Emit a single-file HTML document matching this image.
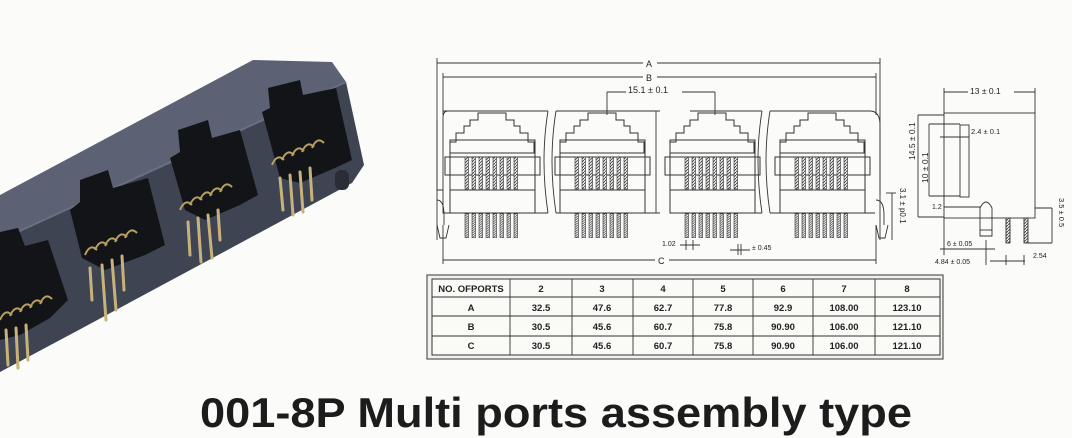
<!DOCTYPE html>
<html><head><meta charset="utf-8"><style>
html,body{margin:0;padding:0;background:#fbfbf9;}
svg{display:block}
</style></head><body>
<svg width="1072" height="438" viewBox="0 0 1072 438" xmlns="http://www.w3.org/2000/svg" font-family="Liberation Sans, sans-serif">
<defs>
<pattern id="h" width="3" height="3" patternUnits="userSpaceOnUse"><rect width="3" height="3" fill="#eee"/><path d="M0 3L3 0" stroke="#444" stroke-width="0.9"/></pattern>
<g id="bars">
<rect x="0" y="0" width="3.5" height="32" fill="url(#h)" stroke="#333" stroke-width="0.6"/>
<rect x="7" y="0" width="3.5" height="32" fill="url(#h)" stroke="#333" stroke-width="0.6"/>
<rect x="14" y="0" width="3.5" height="32" fill="url(#h)" stroke="#333" stroke-width="0.6"/>
<rect x="21" y="0" width="3.5" height="32" fill="url(#h)" stroke="#333" stroke-width="0.6"/>
<rect x="28" y="0" width="3.5" height="32" fill="url(#h)" stroke="#333" stroke-width="0.6"/>
<rect x="35" y="0" width="3.5" height="32" fill="url(#h)" stroke="#333" stroke-width="0.6"/>
<rect x="42" y="0" width="3.5" height="32" fill="url(#h)" stroke="#333" stroke-width="0.6"/>
<rect x="49" y="0" width="3.5" height="32" fill="url(#h)" stroke="#333" stroke-width="0.6"/>
</g>
<g id="port" fill="none" stroke="#333" stroke-width="1">
<path d="M-14 113H14V120H22V126H28V133H36V142H42V153H-42V142H-36V133H-28V126H-22V120H-14Z"/>
<rect x="-42" y="140" width="85" height="73"/>
<rect x="-47" y="157" width="95" height="18"/>
<line x1="-42" y1="190" x2="43" y2="190"/>
<use href="#bars" x="-27" y="157"/>
<g transform="translate(0,57) scale(1,0.75)"><use href="#bars" x="-27" y="209"/></g>
</g>
</defs>

<g>
<polygon points="0,195 253,60 332,62 346,82 0,240" fill="#5c6274"/>
<polygon points="0,240 346,82 364,165 352,183 75,332 0,372" fill="#3f4453"/>
<line x1="0" y1="240" x2="346" y2="82" stroke="#6a7082" stroke-width="2"/>
<polygon points="268,88 300,80 303,95 336,88 352,160 335,168 300,183 280,178 262,112 270,108" fill="#121418"/>
<polygon points="178,130 208,120 212,138 240,130 258,195 240,205 205,220 185,210 170,158 180,152" fill="#121418"/>
<polygon points="80,180 108,170 113,188 148,178 165,245 145,255 105,270 82,258 70,210 80,202" fill="#121418"/>
<polygon points="0,232 18,228 25,246 48,240 68,300 50,318 20,335 0,340" fill="#121418"/>
<g stroke="#c8b27a" stroke-width="3" stroke-linecap="round">
<line x1="280" y1="178" x2="283" y2="210"/><line x1="290" y1="175" x2="293" y2="215"/><line x1="300" y1="172" x2="303" y2="212"/><line x1="310" y1="168" x2="312" y2="200"/>
<line x1="188" y1="222" x2="190" y2="255"/><line x1="198" y1="218" x2="201" y2="262"/><line x1="208" y1="215" x2="212" y2="258"/><line x1="218" y1="210" x2="220" y2="240"/>
<line x1="90" y1="268" x2="92" y2="300"/><line x1="102" y1="265" x2="106" y2="320"/><line x1="112" y1="260" x2="116" y2="310"/><line x1="122" y1="256" x2="124" y2="290"/>
<line x1="6" y1="330" x2="8" y2="365"/><line x1="16" y1="328" x2="18" y2="368"/><line x1="26" y1="325" x2="28" y2="360"/>
</g>
<g stroke="#b8a060" stroke-width="2" fill="none">
<path d="M272 165q5 -12 12 -5M282 160q5 -12 12 -5M292 156q5 -12 12 -5M302 152q5 -12 12 -5M312 148q5 -12 12 -5"/>
<path d="M180 210q5 -12 12 -5M190 205q5 -12 12 -5M200 200q5 -12 12 -5M210 196q5 -12 12 -5M220 192q5 -12 12 -5"/>
<path d="M85 255q5 -12 12 -5M95 250q5 -12 12 -5M105 246q5 -12 12 -5M115 242q5 -12 12 -5M125 238q5 -12 12 -5"/>
<path d="M0 320q5 -12 12 -5M10 316q5 -12 12 -5M20 312q5 -12 12 -5M30 308q5 -12 12 -5M40 304q5 -12 12 -5"/>
</g>
<rect x="335" y="170" width="14" height="20" rx="6" fill="#2a2d36"/>
</g>

<g stroke="#333" stroke-width="0.9" fill="none">
<line x1="437" y1="63" x2="880" y2="63"/><line x1="437" y1="58" x2="437" y2="240"/><line x1="880" y1="58" x2="880" y2="240"/>
<line x1="443" y1="77" x2="876" y2="77"/><line x1="443" y1="73" x2="443" y2="115"/><line x1="876" y1="73" x2="876" y2="115"/>
<line x1="607" y1="92" x2="715" y2="92"/><line x1="607" y1="92" x2="607" y2="115"/><line x1="715" y1="92" x2="715" y2="115"/>
<path d="M443 111H548M556 111H660M690 111H762M770 111H870Q880 111 880 125V195"/>
<path d="M448 111Q443 111 443 118V213H548M556 213H660M690 213H762M770 213H875"/>
<path d="M437 120V190H443"/>
<path d="M548 111Q540 160 548 213M556 111Q548 160 556 213"/>
<path d="M762 111Q754 160 762 213M770 111Q762 160 770 213"/>
<line x1="656" y1="111" x2="656" y2="213"/>
<path d="M437 200Q444 200 444 215V225M437 225L440 238H446L449 225"/>
<path d="M876 200Q884 200 884 215V225M876 225L879 238H885L888 225"/>
<line x1="443" y1="260" x2="876" y2="260"/><line x1="443" y1="225" x2="443" y2="264"/><line x1="876" y1="225" x2="876" y2="264"/>
<line x1="680" y1="245" x2="700" y2="245"/><line x1="686" y1="240" x2="686" y2="250"/><line x1="693" y1="240" x2="693" y2="250"/>
<line x1="730" y1="250" x2="750" y2="250"/><line x1="738" y1="244" x2="738" y2="255"/><line x1="741" y1="244" x2="741" y2="255"/>
<line x1="892" y1="193" x2="892" y2="240"/><line x1="886" y1="193" x2="896" y2="193"/>
</g>
<use href="#port" x="492"/><use href="#port" x="602"/><use href="#port" x="712"/><use href="#port" x="822"/>
<g font-size="9" fill="#222">
<rect x="643" y="58" width="14" height="10" fill="#fbfbf9"/><text x="646" y="67">A</text>
<rect x="643" y="72" width="14" height="10" fill="#fbfbf9"/><text x="646" y="81">B</text>
<rect x="626" y="84" width="56" height="11" fill="#fbfbf9"/><text x="628" y="93">15.1 ± 0.1</text>
<rect x="655" y="255" width="14" height="10" fill="#fbfbf9"/><text x="658" y="264">C</text>
<text x="662" y="246" font-size="7">1.02</text><text x="752" y="250" font-size="7">± 0.45</text>
<text transform="translate(900,188) rotate(90)" font-size="8">3.1 ± p0.1</text>
</g>

<g stroke="#333" stroke-width="0.9" fill="none">
<rect x="944" y="113" width="91" height="105"/>
<line x1="944" y1="92" x2="1035" y2="92"/><line x1="944" y1="88" x2="944" y2="113"/><line x1="1035" y1="88" x2="1035" y2="113"/>
<rect x="960" y="125" width="9" height="72"/>
<line x1="918" y1="115" x2="944" y2="115"/><line x1="918" y1="217" x2="944" y2="217"/><line x1="918" y1="115" x2="918" y2="217"/>
<line x1="929" y1="124" x2="960" y2="124"/><line x1="929" y1="196" x2="960" y2="196"/><line x1="929" y1="124" x2="929" y2="196"/>
<line x1="940" y1="137" x2="969" y2="137"/>
<line x1="944" y1="207" x2="980" y2="207"/>
<path d="M980 218V208Q986 196 992 208V236H980Z"/><line x1="980" y1="230" x2="992" y2="230"/>
<rect x="1006" y="218" width="4" height="25" fill="url(#h)"/><rect x="1024" y="218" width="4" height="25" fill="url(#h)"/>
<line x1="1035" y1="208" x2="1052" y2="208"/><line x1="1028" y1="243" x2="1052" y2="243"/><line x1="1052" y1="208" x2="1052" y2="243"/>
<line x1="944" y1="218" x2="944" y2="255"/><line x1="986" y1="240" x2="986" y2="265"/>
<line x1="940" y1="249" x2="995" y2="249"/><line x1="990" y1="261" x2="1025" y2="261"/><line x1="1006" y1="255" x2="1006" y2="265"/><line x1="1024" y1="255" x2="1024" y2="265"/>
</g>
<g font-size="8.5" fill="#222">
<rect x="968" y="86" width="46" height="11" fill="#fbfbf9"/><text x="970" y="94">13 ± 0.1</text>
<text x="971" y="134" font-size="7.5">2.4 ± 0.1</text>
<text transform="translate(915,160) rotate(-90)">14.5 ± 0.1</text>
<text transform="translate(928,183) rotate(-90)">10 ± 0.1</text>
<text x="932" y="209" font-size="7">1.2</text>
<text x="947" y="246" font-size="7">6 ± 0.05</text>
<text x="935" y="264" font-size="7">4.84 ± 0.05</text>
<text x="1033" y="258" font-size="7">2.54</text>
<text transform="translate(1059,198) rotate(90)" font-size="7.5">3.5 ± 0.5</text>
</g>

<g>
<rect x="427" y="275" width="516" height="84" fill="#f1f1ee" stroke="#555" stroke-width="1.2"/>
<rect x="432" y="279" width="508" height="76" fill="#fafaf7" stroke="#333" stroke-width="1"/>
<g stroke="#333" stroke-width="0.9">
<line x1="432" y1="297" x2="940" y2="297"/><line x1="432" y1="316" x2="940" y2="316"/><line x1="432" y1="336" x2="940" y2="336"/>
<line x1="510" y1="279" x2="510" y2="355"/><line x1="572" y1="279" x2="572" y2="355"/><line x1="633" y1="279" x2="633" y2="355"/><line x1="693" y1="279" x2="693" y2="355"/><line x1="753" y1="279" x2="753" y2="355"/><line x1="813" y1="279" x2="813" y2="355"/><line x1="875" y1="279" x2="875" y2="355"/>
</g>
<g font-size="9.5" font-weight="bold" fill="#222" text-anchor="middle">
<text x="471" y="292">NO. OFPORTS</text>
<text x="541" y="292">2</text><text x="602" y="292">3</text><text x="663" y="292">4</text><text x="723" y="292">5</text><text x="783" y="292">6</text><text x="844" y="292">7</text><text x="907" y="292">8</text>
<text x="471" y="311">A</text><text x="541" y="311">32.5</text><text x="602" y="311">47.6</text><text x="663" y="311">62.7</text><text x="723" y="311">77.8</text><text x="783" y="311">92.9</text><text x="844" y="311">108.00</text><text x="907" y="311">123.10</text>
<text x="471" y="330">B</text><text x="541" y="330">30.5</text><text x="602" y="330">45.6</text><text x="663" y="330">60.7</text><text x="723" y="330">75.8</text><text x="783" y="330">90.90</text><text x="844" y="330">106.00</text><text x="907" y="330">121.10</text>
<text x="471" y="349">C</text><text x="541" y="349">30.5</text><text x="602" y="349">45.6</text><text x="663" y="349">60.7</text><text x="723" y="349">75.8</text><text x="783" y="349">90.90</text><text x="844" y="349">106.00</text><text x="907" y="349">121.10</text>
</g>
</g>

<text x="200" y="427" font-size="42" font-weight="bold" fill="#1c1c1c" textLength="712" lengthAdjust="spacingAndGlyphs">001-8P Multi ports assembly type</text>
</svg>
</body></html>
